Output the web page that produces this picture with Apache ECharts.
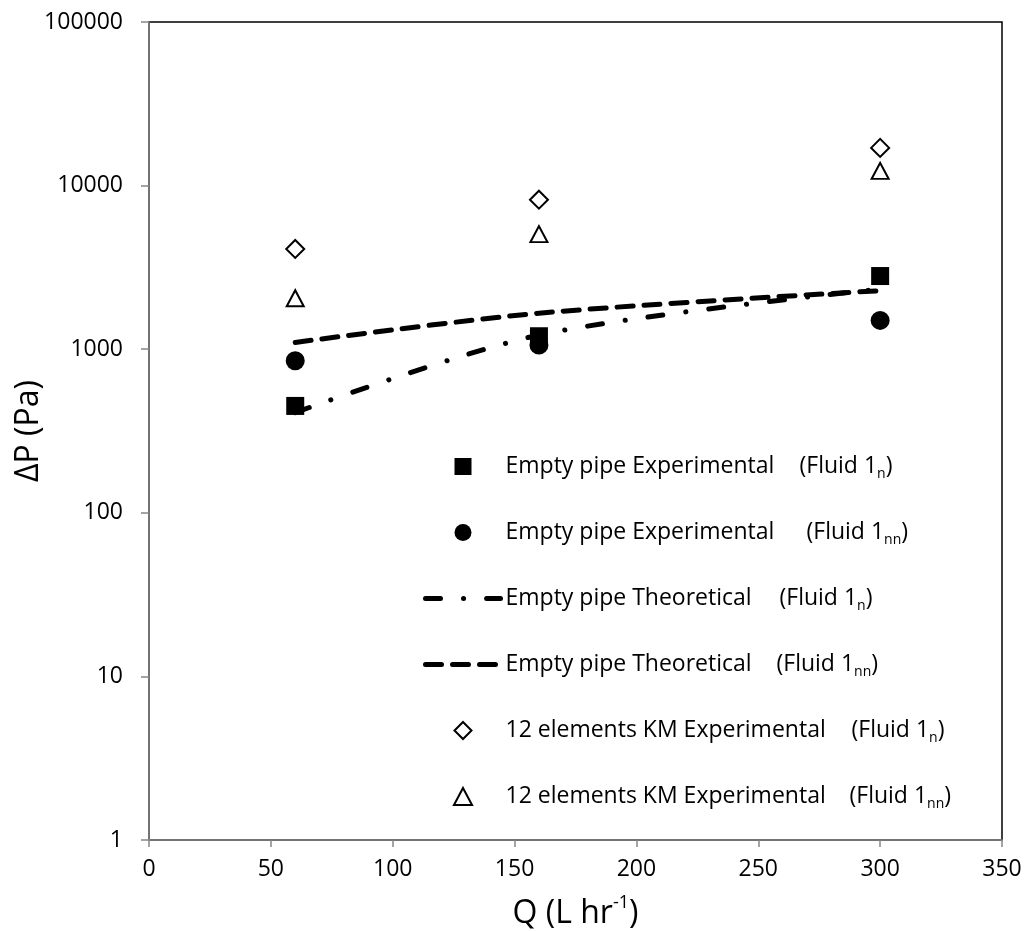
<!DOCTYPE html>
<html>
<head>
<meta charset="utf-8">
<script src="https://cdn.jsdelivr.net/npm/echarts@6/dist/echarts.min.js"></script>
<style>
html,body{margin:0;padding:0;background:#fff;}
#chart{width:1029px;height:931px;}
</style>
</head>
<body>
<div id="chart"></div>
<script>
// Flow rate Q (L/hr)
const Q = [60, 160, 300];
// Pressure drop ΔP (Pa)
const emptyExpN   = [450, 1200, 2800];
const emptyExpNN  = [850, 1060, 1500];
const emptyTheoN  = [410, 1220, 2330];
const emptyTheoNN = [1100, 1660, 2280];
const kmExpN      = [4100, 8200, 17000];
const kmExpNN     = [2050, 5050, 12300];

const xTicks = [0, 50, 100, 150, 200, 250, 300, 350];
const yTicks = [1, 10, 100, 1000, 10000, 100000];

const labelMain = ['Empty pipe Experimental', 'Empty pipe Experimental', 'Empty pipe Theoretical',
                   'Empty pipe Theoretical', '12 elements KM Experimental', '12 elements KM Experimental'];
const labelSub = ['n', 'nn', 'n', 'nn', 'n', 'nn'];
const names = labelMain.map((m, i) => m + ' (Fluid 1' + labelSub[i] + ')');

function pairs(ys) { return Q.map((q, i) => [q, ys[i]]); }

const FONT = 'Open Sans';
const chart = echarts.init(document.getElementById('chart'), null, {renderer: 'canvas'});

const dashDot = [15, 23, 0.1, 23];
const dashed = [16, 11];

const ICON_SQUARE = 'path://M0,0L10,0L10,10L0,10Z';
const ICON_CIRCLE = 'path://M0,5A5,5,0,1,1,10,5A5,5,0,1,1,0,5Z';
const ICON_DIAMOND = 'path://M5,0L10,5L5,10L0,5Z';
const ICON_TRIANGLE = 'path://M5,0L10,9.4L0,9.4Z';
const HIDDEN = {color: 'rgba(0,0,0,0)', borderColor: 'rgba(0,0,0,0)', borderWidth: 0};

const LFS = 23;
const richLegend = {
  p: {fontSize: LFS, fontFamily: FONT, color: '#000', lineHeight: 30},
  s: {fontSize: 14, fontFamily: FONT, color: '#000', lineHeight: 12, verticalAlign: 'bottom'}
};
const mainWidths = [294, 301, 274, 271, 346, 344];
mainWidths.forEach((w, i) => {
  richLegend['a' + i] = {fontSize: LFS, fontFamily: FONT, color: '#000', lineHeight: 30, width: w};
});

const option = {
  backgroundColor: '#fff',
  animation: false,
  grid: {left: 149, right: 27, top: 22, bottom: 91, show: true, borderColor: '#000', borderWidth: 1.5,
    backgroundColor: 'transparent', containLabel: false, outerBoundsMode: 'none'},
  xAxis: {
    type: 'value', min: 0, max: 350, interval: 50,
    name: 'Q (L hr{sup|-1})', nameLocation: 'middle', nameGap: 54, nameMoveOverlap: false,
    nameTextStyle: {fontSize: 32, fontFamily: FONT, color: '#000', lineHeight: 40,
      rich: {sup: {fontSize: 18, fontFamily: FONT, color: '#000', verticalAlign: 'top', lineHeight: 24}}},
    axisLine: {show: true, lineStyle: {color: '#868686', width: 1.5}},
    axisTick: {show: true, length: 7, lineStyle: {color: '#868686', width: 1.5}},
    splitLine: {show: false},
    axisLabel: {fontSize: 23, fontFamily: FONT, color: '#000', margin: 18,
      formatter: v => xTicks.includes(v) ? String(v) : ''}
  },
  yAxis: {
    type: 'log', logBase: 10, min: 1, max: 100000,
    name: 'ΔP (Pa)', nameLocation: 'middle', nameGap: 104, nameRotate: 90, nameMoveOverlap: false,
    nameTextStyle: {fontSize: 32, fontFamily: FONT, color: '#000'},
    axisLine: {show: true, lineStyle: {color: '#868686', width: 1.5}},
    axisTick: {show: true, length: 8, lineStyle: {color: '#868686', width: 1.5}},
    minorTick: {show: false},
    splitLine: {show: false},
    axisLabel: {fontSize: 23, fontFamily: FONT, color: '#000', margin: 26,
      formatter: v => { const r = Math.round(v); return yTicks.includes(r) ? String(r) : ''; }}
  },
  legend: {
    orient: 'vertical', left: 418, top: 450, itemWidth: 75, itemHeight: 17, itemGap: 39.5,
    selectedMode: false, symbolKeepAspect: true,
    textStyle: {fontSize: LFS, fontFamily: FONT, color: '#000', rich: richLegend},
    formatter: name => {
      const i = names.indexOf(name);
      return '{a' + i + '|' + labelMain[i] + '}{p|(Fluid 1}{s|' + labelSub[i] + '}{p|)}';
    },
    data: [
      {name: names[0], icon: ICON_SQUARE, itemStyle: {color: '#000', borderWidth: 0, opacity: 1}},
      {name: names[1], icon: ICON_CIRCLE, itemStyle: {color: '#000', borderWidth: 0, opacity: 1}},
      {name: names[2], itemStyle: HIDDEN, lineStyle: {color: '#000', width: 5, type: dashDot, cap: 'round'}},
      {name: names[3], itemStyle: HIDDEN, lineStyle: {color: '#000', width: 5, type: dashed, cap: 'round'}},
      {name: names[4], icon: ICON_DIAMOND, itemStyle: {color: '#fff', borderColor: '#000', borderWidth: 2, opacity: 1}},
      {name: names[5], icon: ICON_TRIANGLE, itemStyle: {color: '#fff', borderColor: '#000', borderWidth: 2, opacity: 1}}
    ]
  },
  series: [
    {name: names[0], type: 'scatter', data: pairs(emptyExpN), symbol: 'rect', symbolSize: 18,
      itemStyle: {color: '#000', opacity: 1}, z: 2},
    {name: names[1], type: 'scatter', data: pairs(emptyExpNN), symbol: 'circle', symbolSize: 19,
      itemStyle: {color: '#000', opacity: 1}, z: 2},
    {name: names[2], type: 'line', data: pairs(emptyTheoN), symbol: 'none', smooth: 0.3,
      lineStyle: {color: '#000', width: 5, type: dashDot, cap: 'round'}, itemStyle: {color: '#000'}, z: 3},
    {name: names[3], type: 'line', data: pairs(emptyTheoNN), symbol: 'none', smooth: 0.3,
      lineStyle: {color: '#000', width: 5, type: dashed, cap: 'round'}, itemStyle: {color: '#000'}, z: 3},
    {name: names[4], type: 'scatter', data: pairs(kmExpN), symbol: 'diamond', symbolSize: 18,
      itemStyle: {color: '#fff', borderColor: '#000', borderWidth: 2, opacity: 1}, z: 4},
    {name: names[5], type: 'scatter', data: pairs(kmExpNN), symbol: 'triangle', symbolSize: [17, 16],
      itemStyle: {color: '#fff', borderColor: '#000', borderWidth: 2, opacity: 1}, z: 4}
  ]
};
chart.setOption(option);
</script>
</body>
</html>
